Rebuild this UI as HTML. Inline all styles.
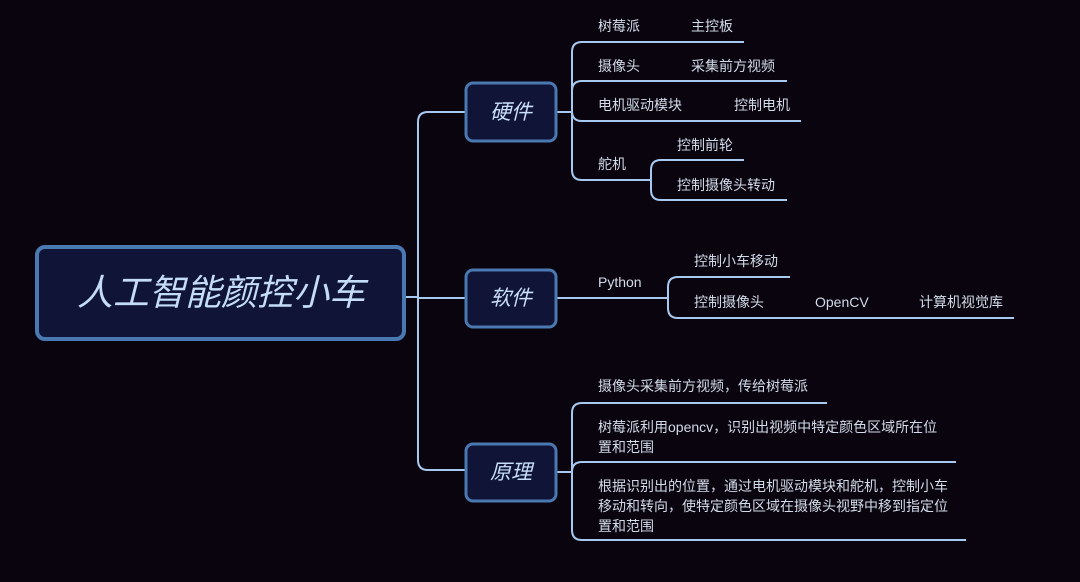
<!DOCTYPE html>
<html><head><meta charset="utf-8"><style>
html,body{margin:0;padding:0;background:#0a040e;}
svg{display:block}
text{font-family:"Liberation Sans","Noto Sans CJK SC",sans-serif;fill:#d2dbe9;font-size:14px;}
.n{font-size:21px;font-style:italic;fill:#c9defa;}
</style></head><body>
<svg width="1080" height="582" xmlns="http://www.w3.org/2000/svg">
<rect width="1080" height="582" fill="#0a040e"/>
<g fill="none" stroke="#a7c9ef" stroke-width="2">
<path d="M405 297 H418"/>
<path d="M465 112 H428 Q418 112 418 122 V460 Q418 470 428 470 H465"/>
<path d="M418 298 H465"/>
<!-- hardware -->
<path d="M557 112 H572"/>
<path d="M744 42 H582 Q572 42 572 52 V170 Q572 180 582 180 H651"/>
<path d="M572 91 Q572 81 582 81 H787"/>
<path d="M572 111 Q572 121 582 121 H801"/>
<path d="M744 160 H661 Q651 160 651 170 V190 Q651 200 661 200 H787"/>
<!-- software -->
<path d="M557 298 H668"/>
<path d="M790 277 H678 Q668 277 668 287 V308 Q668 318 678 318 H1014"/>
<!-- principle -->
<path d="M557 472 H572"/>
<path d="M827 403 H582 Q572 403 572 413 V530 Q572 540 582 540 H966"/>
<path d="M572 472 Q572 462 582 462 H956"/>
</g>
<rect x="37" y="247" width="367" height="92" rx="8" fill="#101538" stroke="#4a78b0" stroke-width="4"/>
<text x="221" y="305" text-anchor="middle" style="font-size:36px;font-style:italic;fill:#c4dcf8">人工智能颜控小车</text>
<rect x="466" y="83" width="90" height="58" rx="7" fill="#101538" stroke="#4a78b0" stroke-width="3"/>
<text class="n" x="511" y="119" text-anchor="middle">硬件</text>
<rect x="466" y="270" width="90" height="57" rx="7" fill="#101538" stroke="#4a78b0" stroke-width="3"/>
<text class="n" x="511" y="305" text-anchor="middle">软件</text>
<rect x="466" y="444" width="90" height="57" rx="7" fill="#101538" stroke="#4a78b0" stroke-width="3"/>
<text class="n" x="511" y="479" text-anchor="middle">原理</text>
<text x="598" y="31">树莓派</text><text x="691" y="31">主控板</text>
<text x="598" y="71">摄像头</text><text x="691" y="71">采集前方视频</text>
<text x="598" y="110">电机驱动模块</text><text x="734" y="110">控制电机</text>
<text x="598" y="169">舵机</text>
<text x="677" y="150">控制前轮</text><text x="677" y="190">控制摄像头转动</text>
<text x="598" y="287">Python</text>
<text x="694" y="266">控制小车移动</text>
<text x="694" y="307">控制摄像头</text><text x="815" y="307">OpenCV</text><text x="919" y="307">计算机视觉库</text>
<text x="598" y="391">摄像头采集前方视频，传给树莓派</text>
<text x="598" y="432">树莓派利用opencv，识别出视频中特定颜色区域所在位</text>
<text x="598" y="452">置和范围</text>
<text x="598" y="491">根据识别出的位置，通过电机驱动模块和舵机，控制小车</text>
<text x="598" y="511">移动和转向，使特定颜色区域在摄像头视野中移到指定位</text>
<text x="598" y="531">置和范围</text>
</svg>
</body></html>
